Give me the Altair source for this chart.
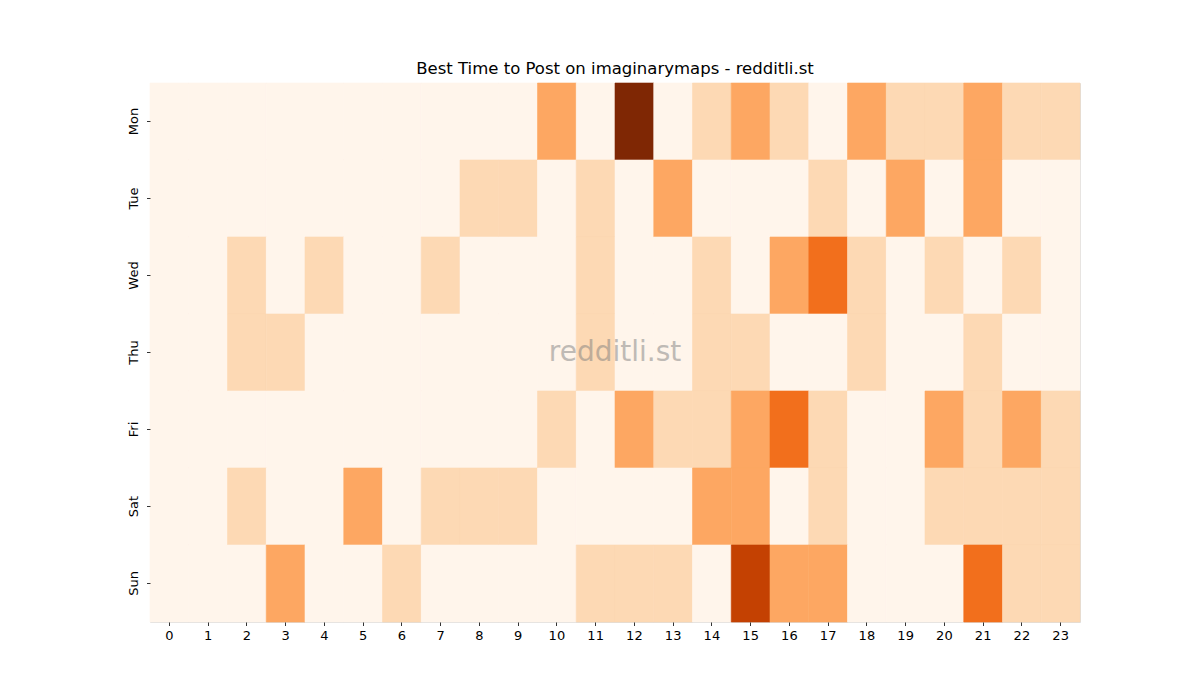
import altair as alt
import pandas as pd

days = ["Mon", "Tue", "Wed", "Thu", "Fri", "Sat", "Sun"]
hours = list(range(24))

mon = [0,0,0,0,0,0,0,0,0,0,2,0,5,0,1,2,1,0,2,1,1,2,1,1]
tue = [0,0,0,0,0,0,0,0,1,1,0,1,0,2,0,0,0,1,0,2,0,2,0,0]
wed = [0,0,1,0,1,0,0,1,0,0,0,1,0,0,1,0,2,3,1,0,1,0,1,0]
thu = [0,0,1,1,0,0,0,0,0,0,0,1,0,0,1,1,0,0,1,0,0,1,0,0]
fri = [0,0,0,0,0,0,0,0,0,0,1,0,2,1,1,2,3,1,0,0,2,1,2,1]
sat = [0,0,1,0,0,2,0,1,1,1,0,0,0,0,2,2,0,1,0,0,1,1,1,1]
sun = [0,0,0,2,0,0,1,0,0,0,0,1,1,1,0,4,2,2,0,0,0,3,1,1]

levels = [0, 1, 2, 3, 4, 5]
level_colors = ["#fff5eb", "#fdd9b4", "#fda762", "#f26f1c", "#c44102", "#7f2704"]

rows = []
for d, vals in zip(days, [mon, tue, wed, thu, fri, sat, sun]):
    for h, v in zip(hours, vals):
        rows.append({"day": d, "hour": h, "value": v})
df = pd.DataFrame(rows)

W, H = 930, 539

cscale = alt.Scale(domain=levels, range=level_colors)

heat = alt.Chart(df).mark_rect(strokeWidth=0.6).encode(
    x=alt.X("hour:O", sort=hours, title=None,
            scale=alt.Scale(paddingInner=0, paddingOuter=0),
            axis=alt.Axis(labelAngle=0, domain=False, tickSize=3.5, tickWidth=0.8,
                          tickColor="black", labelColor="black", labelFontSize=13,
                          labelFont="DejaVu Sans", labelPadding=4)),
    y=alt.Y("day:O", sort=days, title=None,
            scale=alt.Scale(paddingInner=0, paddingOuter=0),
            axis=alt.Axis(labelAngle=270, domain=False, tickSize=3.5, tickWidth=0.8,
                          tickColor="black", labelColor="black", labelFontSize=13,
                          labelFont="DejaVu Sans", labelPadding=6,
                          labelAlign="center", labelBaseline="bottom")),
    color=alt.Color("value:O", scale=cscale, legend=None),
    stroke=alt.Stroke("value:O", scale=cscale, legend=None),
)

mark = alt.Chart(pd.DataFrame({"t": ["redditli.st"]})).mark_text(
    fontSize=28, font="DejaVu Sans", color="gray", opacity=0.5,
    align="center", baseline="middle"
).encode(text="t:N", x=alt.value(W / 2), y=alt.value(H / 2))

chart = alt.layer(heat, mark).properties(
    width=W, height=H,
    title=alt.TitleParams("Best Time to Post on imaginarymaps - redditli.st",
                          font="DejaVu Sans", fontSize=16.5, fontWeight="normal",
                          color="black", offset=5),
    autosize=alt.AutoSizeParams(type="none"),
    padding={"left": 150, "top": 83, "right": 120, "bottom": 78},
).configure_view(stroke=None).configure(background="white")

chart.save("out.html", embed_options={"renderer": "svg", "actions": False})
